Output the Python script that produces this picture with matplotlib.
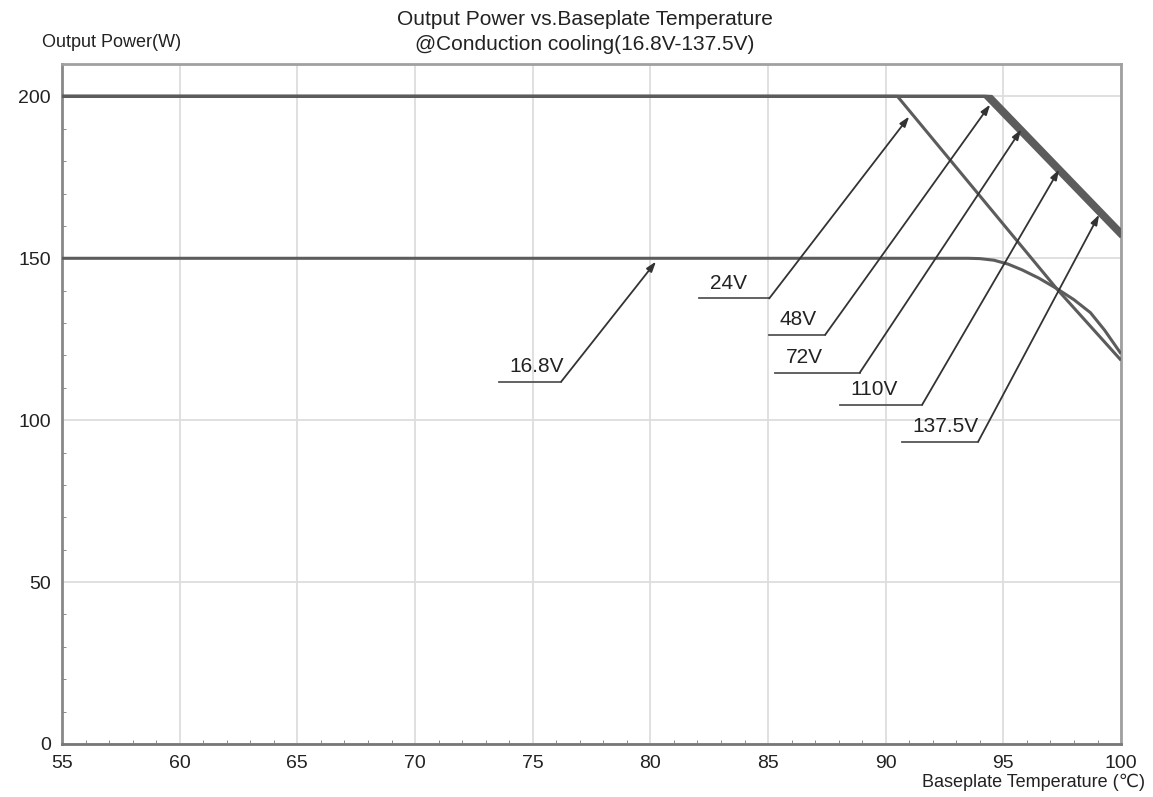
import numpy as np
import matplotlib
matplotlib.use('Agg')
import matplotlib.pyplot as plt

plt.rcParams['font.family'] = ['Liberation Sans', 'DejaVu Sans', 'Noto Sans CJK SC']

# derating curves: (temperature degC, output power W)
t_168 = [55, 93.5, 94.0, 94.6, 95.2, 95.8, 96.5, 97.3, 98.0, 98.7, 99.3, 100]
p_168 = [150, 150, 149.9, 149.4, 148.2, 146.4, 143.9, 140.5, 137.2, 133.2, 127.8, 120.5]

t_24 = [55, 90.5, 97.3, 100]
p_24 = [200, 200, 140.3, 118.5]

t_48 = [55, 94.2, 100]
p_48 = [200, 200, 156.5]
t_72 = [55, 94.3, 100]
p_72 = [200, 200, 157.2]
t_110 = [55, 94.4, 100]
p_110 = [200, 200, 157.9]
t_1375 = [55, 94.5, 100]
p_1375 = [200, 200, 158.6]

series = [(t_168, p_168), (t_24, p_24), (t_48, p_48),
          (t_72, p_72), (t_110, p_110), (t_1375, p_1375)]

labels = ['16.8V', '24V', '48V', '72V', '110V', '137.5V']
# where each arrow points on its curve
arrow_tips = [(80.24, 149.0), (91.0, 193.8), (94.44, 197.5),
              (95.76, 189.8), (97.37, 177.4), (99.07, 163.5)]

# label callouts: underline start/end x, underline y
callouts = [(73.57, 76.21, 111.9), (82.07, 85.05, 137.6), (85.05, 87.43, 126.4),
            (85.3, 88.9, 114.7), (88.06, 91.55, 104.8), (90.7, 93.93, 93.4)]

line_color = '#5c5c5c'

fig = plt.figure(figsize=(11.53, 7.97), dpi=100)
ax = fig.add_axes([0.0538, 0.0665, 0.9185, 0.8532])

for t, p in series:
    ax.plot(t, p, color=line_color, lw=2.2, solid_capstyle='butt', zorder=3)

for lab, (x0, x1, y), tip in zip(labels, callouts, arrow_tips):
    ax.plot([x0, x1], [y, y], color='#555555', lw=1.3, zorder=4)
    ax.annotate('', xy=tip, xytext=(x1, y),
                arrowprops=dict(arrowstyle='-|>,head_length=0.6,head_width=0.2',
                                color='#333333', lw=1.3, shrinkA=0, shrinkB=0),
                zorder=4)
    ax.text(x0 + 0.45, y + 1.8, lab, fontsize=15, color='#222222',
            ha='left', va='bottom', zorder=4)

ax.set_xlim(55, 100)
ax.set_ylim(0, 210)
ax.set_xticks(np.arange(55, 101, 5))
ax.set_yticks(np.arange(0, 201, 50))
ax.set_xticks(np.arange(55, 101, 1), minor=True)
ax.set_yticks(np.arange(0, 211, 10), minor=True)
ax.grid(True, which='major', color='#dddddd', lw=1.3, zorder=0)
ax.tick_params(which='major', length=0, labelsize=14, pad=8, colors='#222222')
ax.tick_params(which='minor', direction='in', length=3, color='#777777')
for s in ax.spines.values():
    s.set_color('#a0a0a0')
    s.set_linewidth(2)
ax.spines['bottom'].set_color('#777777')
ax.spines['left'].set_color('#888888')

fig.text(0.507, 0.987, 'Output Power vs.Baseplate Temperature\n@Conduction cooling(16.8V-137.5V)',
         ha='center', va='top', fontsize=15, color='#222222', linespacing=1.35)
fig.text(0.036, 0.947, 'Output Power(W)', ha='left', va='center', fontsize=13, color='#222222')
fig.text(0.993, 0.018, 'Baseplate Temperature (\u2103)', ha='right', va='center',
         fontsize=13, color='#222222')

fig.savefig('out.png', dpi=100)
